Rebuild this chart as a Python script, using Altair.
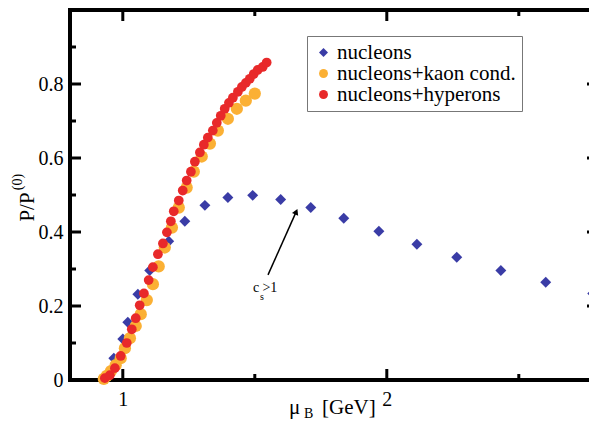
import altair as alt
import pandas as pd

FONT = "Liberation Serif"

series_names = ["nucleons", "nucleons+kaon cond.", "nucleons+hyperons"]
series_colors = ["#3a3ca6", "#fbb034", "#e8292a"]
series_shapes = ["diamond", "circle", "circle"]
series_sizes = [120, 150, 95]

# nucleons (blue diamonds)
nuc_mu = [0.928, 0.966, 1.000, 1.019, 1.057, 1.102, 1.174, 1.235, 1.311, 1.398,
          1.492, 1.598, 1.712, 1.837, 1.970, 2.114, 2.265, 2.432, 2.602, 2.780]
nuc_p = [0.003, 0.059, 0.111, 0.156, 0.232, 0.296, 0.375, 0.429, 0.472, 0.493,
         0.499, 0.488, 0.466, 0.437, 0.402, 0.367, 0.332, 0.296, 0.264, 0.234]

# nucleons + kaon condensation (orange circles)
kaon_mu = [0.928, 0.939, 0.955, 0.973, 0.992, 1.008, 1.027, 1.049, 1.068, 1.091,
           1.114, 1.136, 1.159, 1.186, 1.212, 1.242, 1.269, 1.299, 1.330, 1.360,
           1.398, 1.432, 1.466, 1.500]
kaon_p = [0.003, 0.011, 0.024, 0.040, 0.059, 0.086, 0.113, 0.146, 0.178, 0.216,
          0.259, 0.307, 0.358, 0.412, 0.466, 0.520, 0.563, 0.604, 0.639, 0.674,
          0.706, 0.733, 0.755, 0.774]

# nucleons + hyperons (red circles)
hyp_mu = [0.932, 0.951, 0.970, 0.992, 1.015, 1.034, 1.049, 1.064, 1.080, 1.098,
          1.114, 1.133, 1.152, 1.167, 1.182, 1.193, 1.212, 1.227, 1.242, 1.258,
          1.273, 1.292, 1.307, 1.322, 1.341, 1.356, 1.371, 1.386, 1.402, 1.417,
          1.436, 1.451, 1.466, 1.481, 1.496, 1.511, 1.530, 1.545]
hyp_p = [0.005, 0.013, 0.032, 0.065, 0.100, 0.137, 0.167, 0.202, 0.234, 0.270,
         0.305, 0.340, 0.369, 0.399, 0.429, 0.456, 0.485, 0.512, 0.539, 0.563,
         0.590, 0.615, 0.636, 0.655, 0.674, 0.695, 0.714, 0.733, 0.749, 0.763,
         0.779, 0.792, 0.803, 0.814, 0.827, 0.838, 0.846, 0.858]

# axis ticks
x_major = [1, 2]
x_minor = [1.5, 2.5]
y_major = [0, 0.2, 0.4, 0.6, 0.8]
y_minor = [0.1, 0.3, 0.5, 0.7, 0.9]

# annotation (c_s > 1 arrow)
arrow_mu = [1.550]
arrow_p = [0.284]
arrow_mu2 = [1.657]
arrow_p2 = [0.455]

W, H = 528, 370

series_data = [nuc_mu, kaon_mu, hyp_mu]
series_vals = [nuc_p, kaon_p, hyp_p]

x_scale = alt.Scale(domain=[0.8, 2.8], nice=False, zero=False)
y_scale = alt.Scale(domain=[0, 1.0], nice=False, zero=False)

x_axis = alt.Axis(values=x_major, title=None, grid=False, domain=False, ticks=False,
                  tickSize=0, labelFont=FONT, labelFontSize=20, labelPadding=9,
                  labelColor="black", format="~g")
y_axis = alt.Axis(values=y_major, title=None, grid=False, domain=False, ticks=False,
                  tickSize=0, labelFont=FONT, labelFontSize=20, labelPadding=7,
                  labelColor="black", format="~g")

legend = alt.Legend(title=None, orient="none", legendX=237, legendY=26, padding=6,
                    strokeColor="#777777", fillColor="white", labelFont=FONT,
                    labelFontSize=21, labelColor="black", rowPadding=-7, labelLimit=400,
                    labelOffset=3, symbolStrokeWidth=0, symbolOpacity=1, symbolSize=80)

color_scale = alt.Scale(domain=series_names, range=series_colors)
shape_scale = alt.Scale(domain=series_names, range=series_shapes)

point_layers = []
for name, mus, ps, sz in zip(series_names, series_data, series_vals, series_sizes):
    d = pd.DataFrame({"mu": mus, "p": ps, "series": [name] * len(mus)})
    point_layers.append(
        alt.Chart(d).mark_point(filled=True, opacity=1, strokeWidth=0, size=sz).encode(
            x=alt.X("mu:Q", scale=x_scale, axis=x_axis),
            y=alt.Y("p:Q", scale=y_scale, axis=y_axis),
            color=alt.Color("series:N", scale=color_scale, legend=legend),
            shape=alt.Shape("series:N", scale=shape_scale, legend=legend),
        )
    )

ymaj_df = pd.DataFrame({"p": y_major})
ymin_df = pd.DataFrame({"p": y_minor})
xmaj_df = pd.DataFrame({"mu": x_major})
xmin_df = pd.DataFrame({"mu": x_minor})

def yticks(d, length, right=False):
    x0, x1 = (W - length, W) if right else (0, length)
    return alt.Chart(d).mark_rule(color="black", strokeWidth=3).encode(
        y=alt.Y("p:Q", scale=y_scale, axis=y_axis), x=alt.value(x0), x2=alt.value(x1))

def xticks(d, length, top=False):
    y0, y1 = (0, length) if top else (H - length, H)
    return alt.Chart(d).mark_rule(color="black", strokeWidth=3).encode(
        x=alt.X("mu:Q", scale=x_scale, axis=x_axis), y=alt.value(y0), y2=alt.value(y1))

tick_layers = [yticks(ymaj_df, 11), yticks(ymin_df, 6), yticks(ymaj_df, 11, True), yticks(ymin_df, 6, True),
               xticks(xmaj_df, 11), xticks(xmin_df, 6), xticks(xmaj_df, 11, True), xticks(xmin_df, 6, True)]

arrow_df = pd.DataFrame({"mu": arrow_mu, "p": arrow_p, "mu2": arrow_mu2, "p2": arrow_p2})
arrow = alt.Chart(arrow_df).mark_rule(color="black", strokeWidth=1.5).encode(
    x=alt.X("mu:Q", scale=x_scale, axis=x_axis), y=alt.Y("p:Q", scale=y_scale, axis=y_axis),
    x2="mu2:Q", y2="p2:Q")
head = alt.Chart(arrow_df).mark_point(shape="triangle-up", filled=True, color="black",
                                      opacity=1, size=45, angle=24).encode(
    x=alt.X("mu2:Q", scale=x_scale, axis=x_axis), y=alt.Y("p2:Q", scale=y_scale, axis=y_axis))

ann_mu = [1.493, 1.520, 1.529]
ann_p = [0.238, 0.216, 0.238]
ann_txt = ["c", "s", ">1"]
ann_fs = [14, 10, 14]
ann_layers = []
for m, p, t, fs in zip(ann_mu, ann_p, ann_txt, ann_fs):
    ann_layers.append(
        alt.Chart(pd.DataFrame({"mu": [m], "p": [p]})).mark_text(
            text=t, font=FONT, fontSize=fs, align="left", baseline="alphabetic", color="black").encode(
            x=alt.X("mu:Q", scale=x_scale, axis=x_axis), y=alt.Y("p:Q", scale=y_scale, axis=y_axis))
    )

def label(txt, x, y, size, angle=0, align="left", baseline="alphabetic"):
    kw = dict(text=txt, font=FONT, fontSize=size, align=align, baseline=baseline, color="black")
    if angle:
        kw["angle"] = angle
    return alt.Chart(pd.DataFrame({"a": [0]})).mark_text(**kw).encode(x=alt.value(x), y=alt.value(y))

titles = [
    label("\u03bc", 219, 404, 21),
    label("B", 234, 408, 14),
    label("[GeV]", 252, 404, 21),
    label("P/P", -42, 197, 21, angle=270, align="center", baseline="middle"),
    label("(0)", -52, 172, 14, angle=270, align="center", baseline="middle"),
]

chart = alt.layer(*point_layers, *tick_layers, arrow, head, *ann_layers, *titles).properties(
    width=W, height=H,
    autosize=alt.AutoSizeParams(type="none"),
    padding={"left": 62, "top": 2, "right": -9, "bottom": 42},
).configure_view(stroke="black", strokeWidth=4).configure_axis(
    labelFont=FONT, labelFontSize=20, labelColor="black"
).configure_legend(labelFont=FONT, labelFontSize=21, labelColor="black", labelLimit=400)

chart.save("out.html", embed_options={"renderer": "svg", "actions": False})
